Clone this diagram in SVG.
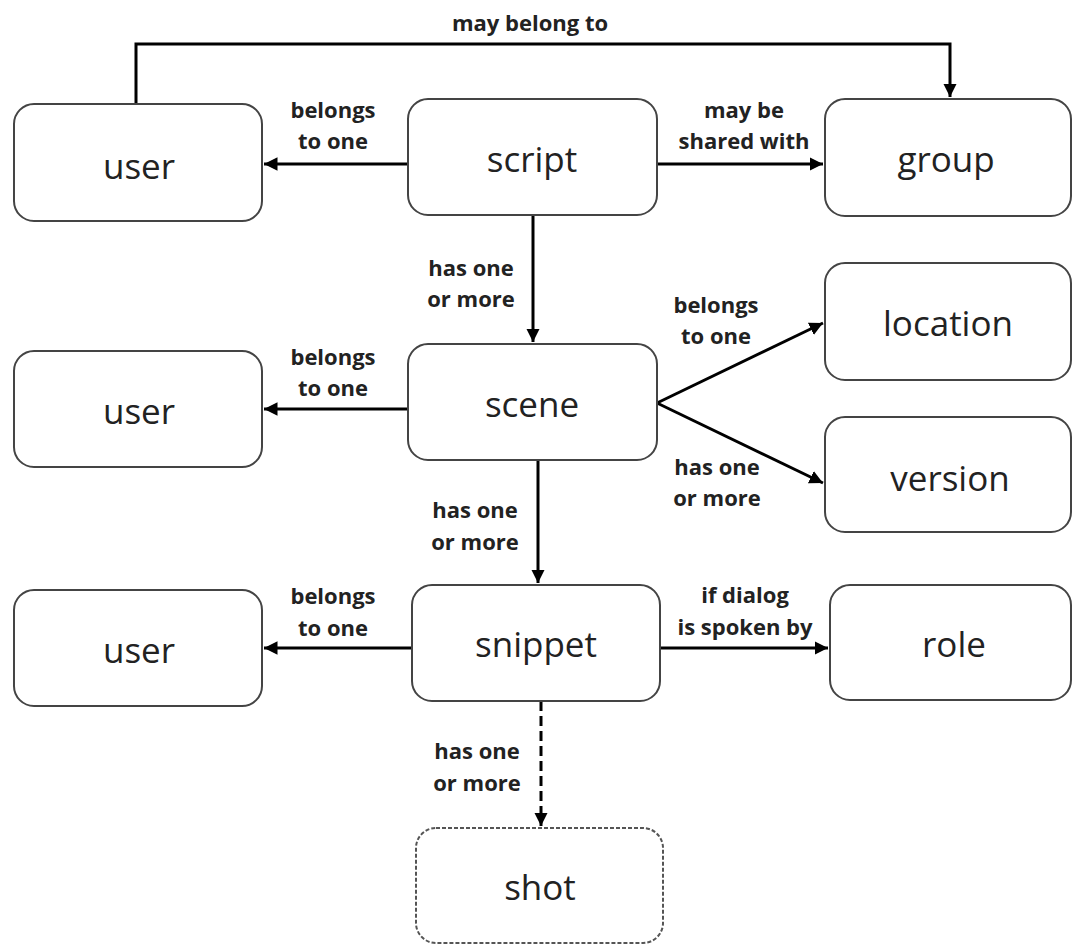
<svg xmlns="http://www.w3.org/2000/svg" width="1072" height="945" viewBox="0 0 1072 945">
<style>
.node rect{fill:#fff;stroke:#444;stroke-width:2}
.node text{font-family:"Open Sans","Liberation Sans",sans-serif;font-size:35px;fill:#222;text-anchor:middle;dominant-baseline:central}
.dashed rect{stroke-dasharray:4 2;stroke:#555}
.conn path{fill:none;stroke:#000;stroke-width:3}
.conn path.d{stroke-dasharray:10 5}
.lbl{font-family:"Open Sans","Liberation Sans",sans-serif;font-size:22px;font-weight:bold;fill:#222;text-anchor:middle}
</style>
<defs>
<marker id="ah" viewBox="0 0 10 10" refX="10" refY="5" markerWidth="4.5" markerHeight="4.5" orient="auto" markerUnits="strokeWidth">
<path d="M0,0 L10,5 L0,10 z" fill="#000"/>
</marker>
</defs>
<rect width="1072" height="945" fill="#fff"/>
<g class="conn">
<path d="M136,104 V44 H950 V97" marker-end="url(#ah)"/>
<path d="M408,164 H264" marker-end="url(#ah)"/>
<path d="M657,164 H823" marker-end="url(#ah)"/>
<path d="M533,215 V342" marker-end="url(#ah)"/>
<path d="M408,409 H264" marker-end="url(#ah)"/>
<path d="M657,403 L823,323" marker-end="url(#ah)"/>
<path d="M657,403 L823,483" marker-end="url(#ah)"/>
<path d="M538,460 V583" marker-end="url(#ah)"/>
<path d="M412,648 H264" marker-end="url(#ah)"/>
<path d="M660,648 H828" marker-end="url(#ah)"/>
<path class="d" d="M541,701 V826" marker-end="url(#ah)"/>
<text class="lbl" x="530" y="31">may belong to</text>
<text class="lbl" x="333" y="118">belongs</text>
<text class="lbl" x="333" y="149">to one</text>
<text class="lbl" x="744" y="118">may be</text>
<text class="lbl" x="744" y="149">shared with</text>
<text class="lbl" x="471" y="276">has one</text>
<text class="lbl" x="471" y="307">or more</text>
<text class="lbl" x="333" y="365">belongs</text>
<text class="lbl" x="333" y="396">to one</text>
<text class="lbl" x="716" y="313">belongs</text>
<text class="lbl" x="716" y="344">to one</text>
<text class="lbl" x="717" y="475">has one</text>
<text class="lbl" x="717" y="506">or more</text>
<text class="lbl" x="475" y="518">has one</text>
<text class="lbl" x="475" y="550">or more</text>
<text class="lbl" x="333" y="604">belongs</text>
<text class="lbl" x="333" y="636">to one</text>
<text class="lbl" x="745" y="603">if dialog</text>
<text class="lbl" x="745" y="635">is spoken by</text>
<text class="lbl" x="477" y="759">has one</text>
<text class="lbl" x="477" y="791">or more</text>
</g>
<g id="user1" class="node"><rect x="14" y="104" width="248" height="117" rx="20"/><text x="139" y="165">user</text></g>
<g id="script" class="node"><rect x="408" y="99" width="249" height="116" rx="20"/><text x="532" y="158">script</text></g>
<g id="group" class="node"><rect x="825" y="99" width="246" height="117" rx="20"/><text x="946" y="158">group</text></g>
<g id="location" class="node"><rect x="825" y="263" width="246" height="117" rx="20"/><text x="948" y="322">location</text></g>
<g id="version" class="node"><rect x="825" y="417" width="246" height="115" rx="20"/><text x="950" y="477">version</text></g>
<g id="scene" class="node"><rect x="408" y="344" width="249" height="116" rx="20"/><text x="532" y="403">scene</text></g>
<g id="user2" class="node"><rect x="14" y="351" width="248" height="116" rx="20"/><text x="139" y="410">user</text></g>
<g id="user3" class="node"><rect x="14" y="590" width="248" height="116" rx="20"/><text x="139" y="649">user</text></g>
<g id="snippet" class="node"><rect x="412" y="585" width="248" height="116" rx="20"/><text x="536" y="643">snippet</text></g>
<g id="role" class="node"><rect x="830" y="585" width="241" height="115" rx="20"/><text x="954" y="643">role</text></g>
<g id="shot" class="node dashed"><rect x="416" y="828" width="247" height="115" rx="20"/><text x="540" y="886">shot</text></g>
</svg>
